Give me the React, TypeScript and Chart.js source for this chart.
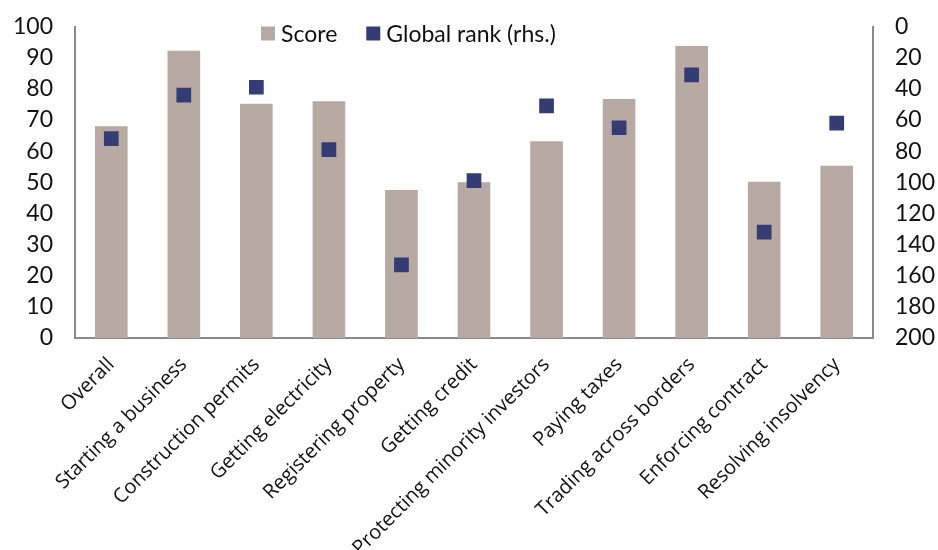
import React, { useEffect, useRef } from 'react';
import { Chart, registerables } from 'chart.js';

Chart.register(...registerables);

const categories = [
  'Overall',
  'Starting a business',
  'Construction permits',
  'Getting electricity',
  'Registering property',
  'Getting credit',
  'Protecting minority investors',
  'Paying taxes',
  'Trading across borders',
  'Enforcing contract',
  'Resolving insolvency',
];

const scoreValues = [68, 92.2, 75.2, 76, 47.5, 50, 63.2, 76.7, 93.7, 50.2, 55.3];
const rankValues = [72, 44, 39, 79, 153, 99, 51, 65, 31, 132, 62];

const scoreLabel = 'Score';
const rankLabel = 'Global rank (rhs.)';

const leftMin = 0;
const leftMax = 100;
const leftStep = 10;
const rightMin = 0;
const rightMax = 200;
const rightStep = 20;

const barColor = '#B8A9A2';
const pointColor = '#333D73';
const axisColor = '#8A8A8A';
const tickFont = 'Lato';
const labelFont = 'Open Sans';

const legendPlugin = {
  id: 'customLegend',
  afterDraw(chart: any) {
    const { ctx, chartArea } = chart;
    const items = chart.data.datasets.map((d: any) => ({
      label: d.label,
      color: d.type === 'line' ? d.pointBackgroundColor : d.backgroundColor,
    }));
    ctx.save();
    ctx.font = `23px ${tickFont}`;
    ctx.textBaseline = 'middle';
    ctx.textAlign = 'left';
    let x = chartArea.left + 186;
    const y = chartArea.top + 7;
    const box = 14;
    items.forEach((it: any) => {
      ctx.fillStyle = it.color;
      ctx.fillRect(x, y - box / 2, box, box);
      x += box + 6;
      ctx.fillStyle = '#111';
      ctx.fillText(it.label, x, y + 1);
      x += ctx.measureText(it.label).width + 29;
    });
    ctx.restore();
  },
};

const fitY = (w: number) => (s: any) => {
  s.width = w;
  s.paddingTop = 12;
  s.paddingBottom = 12;
};

export default function App() {
  const ref = useRef<HTMLCanvasElement | null>(null);

  useEffect(() => {
    document.body.style.margin = '0';
    if (!ref.current) return;
    const chart = new Chart(ref.current, {
      type: 'bar',
      data: {
        labels: categories,
        datasets: [
          {
            type: 'bar',
            label: scoreLabel,
            data: scoreValues,
            backgroundColor: barColor,
            yAxisID: 'y',
            barPercentage: 0.45,
            categoryPercentage: 1,
            order: 1,
          } as any,
          {
            type: 'line',
            label: rankLabel,
            data: rankValues,
            showLine: false,
            pointStyle: 'rect',
            pointRadius: 10.4,
            pointBackgroundColor: pointColor,
            pointBorderColor: pointColor,
            pointBorderWidth: 0,
            yAxisID: 'y1',
            order: 0,
          } as any,
        ],
      },
      options: {
        responsive: false,
        animation: false,
        layout: { padding: { top: 26.5, left: 0, right: 0, bottom: 0 } },
        plugins: {
          legend: { display: false },
          tooltip: { enabled: false },
        },
        scales: {
          x: {
            offset: true,
            grid: { display: false, drawTicks: false },
            border: { display: true, color: axisColor, width: 2 },
            ticks: {
              minRotation: 45,
              maxRotation: 45,
              autoSkip: false,
              padding: 15,
              color: '#111',
              font: { family: labelFont, size: 20 },
            },
            afterFit: (s: any) => {
              s.height = 212;
            },
          },
          y: {
            position: 'left',
            min: leftMin,
            max: leftMax,
            grid: { display: false, drawTicks: false },
            border: { display: true, color: axisColor, width: 2 },
            ticks: {
              stepSize: leftStep,
              padding: 22,
              color: '#111',
              font: { family: tickFont, size: 23 },
            },
            afterFit: fitY(75),
          },
          y1: {
            position: 'right',
            reverse: true,
            min: rightMin,
            max: rightMax,
            grid: { display: false, drawTicks: false },
            border: { display: true, color: axisColor, width: 2 },
            ticks: {
              stepSize: rightStep,
              padding: 22,
              color: '#111',
              font: { family: tickFont, size: 23 },
            },
            afterFit: fitY(65),
          },
        },
      },
      plugins: [legendPlugin],
    });
    return () => chart.destroy();
  }, []);

  return (
    <div style={{ width: 938, height: 550, background: '#fff' }}>
      <canvas ref={ref} width={938} height={550} style={{ display: 'block' }} />
    </div>
  );
}
